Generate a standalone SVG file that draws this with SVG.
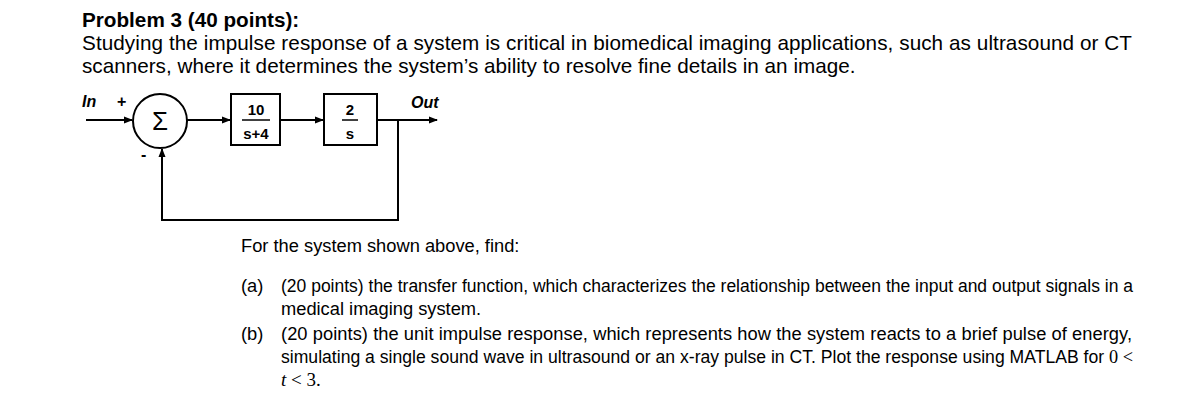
<svg xmlns="http://www.w3.org/2000/svg" width="1191" height="402" viewBox="0 0 1191 402">
<style>
text{font-family:"Liberation Sans",Arial,sans-serif;fill:#000}
.h{font-size:20.7px}
.t{font-size:18.3px}
.m{font-family:"Liberation Serif","Times New Roman",serif;font-size:19px}
.d{font-size:15px;font-weight:bold}
.i{font-style:italic;font-size:16px;font-weight:bold}
.ln{stroke:#000;stroke-width:2;fill:none}
</style>
<defs><marker id="a" markerWidth="9" markerHeight="8" refX="8" refY="4" orient="auto" markerUnits="userSpaceOnUse"><path d="M0,0.5 L9,4 L0,7.5 Z" fill="#000"/></marker></defs>
<rect width="1191" height="402" fill="#fff"/>
<text class="h" x="82" y="27" font-weight="bold">Problem 3 (40 points):</text>
<text class="h" x="82" y="50" textLength="1050" lengthAdjust="spacing">Studying the impulse response of a system is critical in biomedical imaging applications, such as ultrasound or CT</text>
<text class="h" x="82" y="73">scanners, where it determines the system’s ability to resolve fine details in an image.</text>
<g id="sum"><circle class="ln" cx="160" cy="121" r="27"/><text x="160" y="130" font-size="26" text-anchor="middle">Σ</text></g>
<g id="b1"><rect class="ln" x="231" y="94" width="49" height="51"/><text class="d" x="256" y="115" text-anchor="middle">10</text><line x1="242" y1="120" x2="270" y2="120" stroke="#000" stroke-width="1.5"/><text class="d" x="256" y="139" text-anchor="middle">s+4</text></g>
<g id="b2"><rect class="ln" x="324" y="94" width="53" height="51"/><text class="d" x="350" y="115" text-anchor="middle">2</text><line x1="342" y1="120" x2="358" y2="120" stroke="#000" stroke-width="1.5"/><text class="d" x="350" y="139" text-anchor="middle">s</text></g>
<g id="labels"><text class="i" x="82" y="107">In</text><text x="117" y="107" font-size="16" font-weight="bold">+</text><text x="141" y="160" font-size="16" font-weight="bold">-</text><text class="i" x="411" y="108">Out</text></g>
<g id="connectors">
<line class="ln" x1="86" y1="120" x2="132" y2="120" marker-end="url(#a)"/>
<line class="ln" x1="187" y1="120" x2="230" y2="120" marker-end="url(#a)"/>
<line class="ln" x1="280" y1="120" x2="323" y2="120" marker-end="url(#a)"/>
<line class="ln" x1="377" y1="120" x2="437" y2="120" marker-end="url(#a)"/>
<polyline class="ln" points="398,120 398,220 162,220 162,149" marker-end="url(#a)"/>
</g>
<text class="t" x="241" y="252">For the system shown above, find:</text>
<text class="t" x="241" y="292">(a)</text>
<text class="t" x="281" y="292" textLength="852" lengthAdjust="spacingAndGlyphs">(20 points) the transfer function, which characterizes the relationship between the input and output signals in a</text>
<text class="t" x="281" y="315">medical imaging system.</text>
<text class="t" x="241" y="340">(b)</text>
<text class="t" x="281" y="340" textLength="851" lengthAdjust="spacing">(20 points) the unit impulse response, which represents how the system reacts to a brief pulse of energy,</text>
<text class="t" x="281" y="363" textLength="852" lengthAdjust="spacingAndGlyphs">simulating a single sound wave in ultrasound or an x-ray pulse in CT. Plot the response using MATLAB for <tspan class="m">0 &lt;</tspan></text>
<text class="t m" x="281" y="386"><tspan font-style="italic">t</tspan> &lt; 3.</text>
</svg>
